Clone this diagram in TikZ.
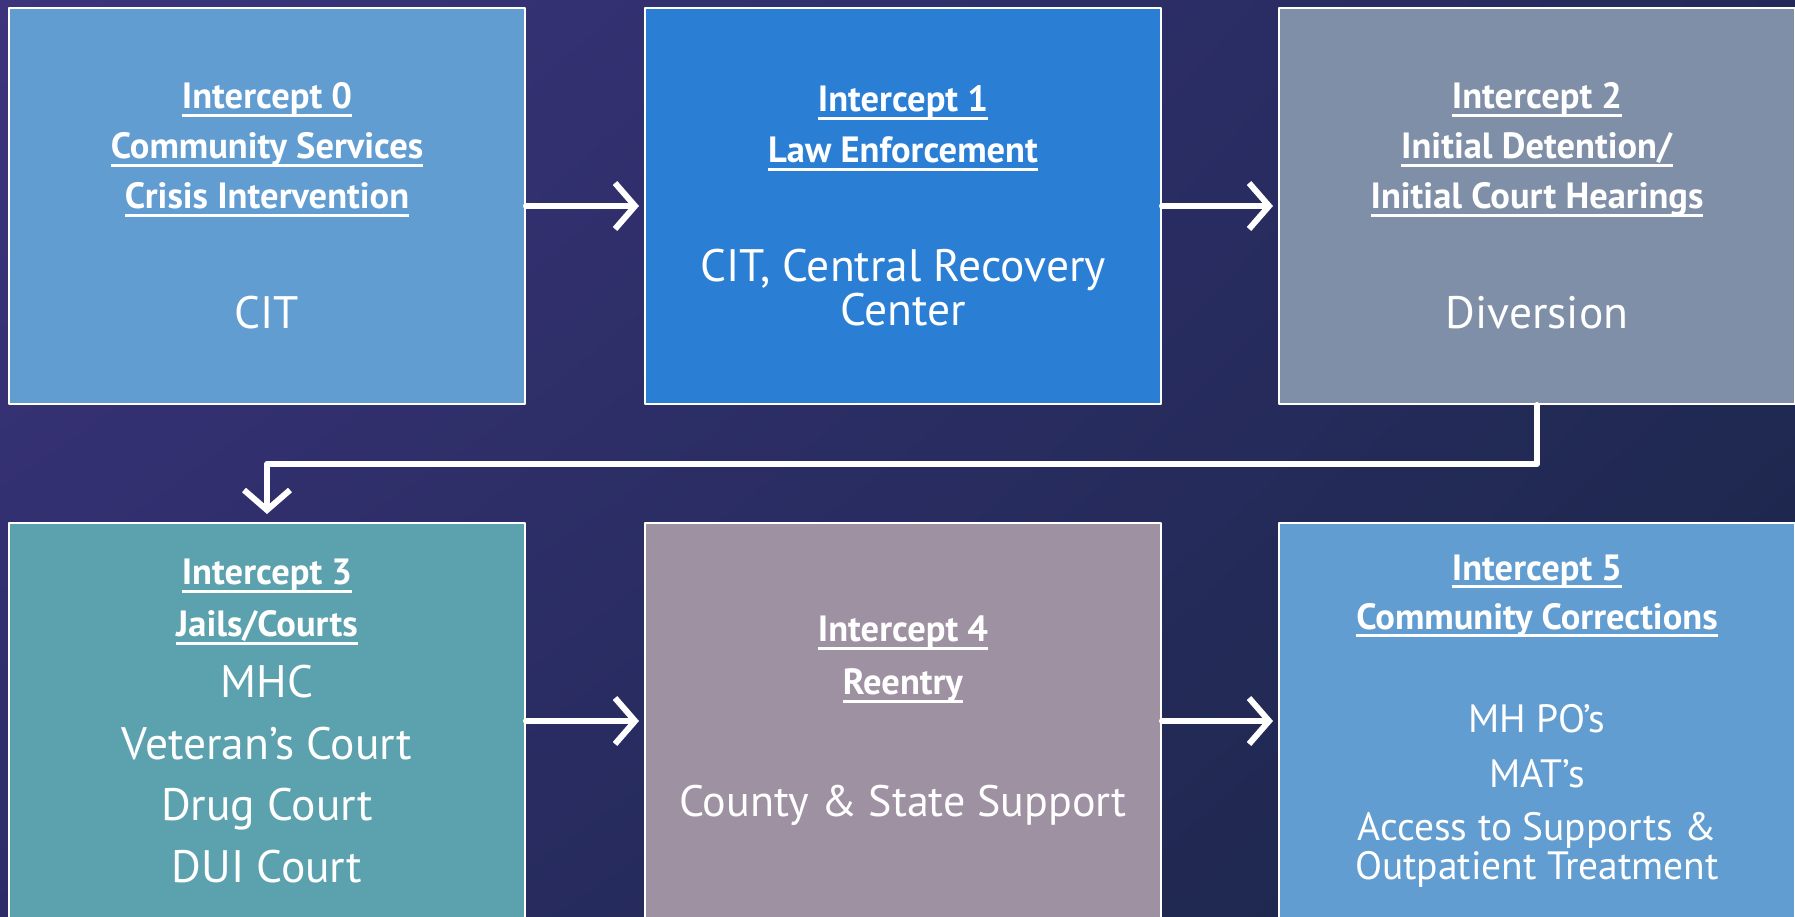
\documentclass[tikz,border=0pt]{standalone}
\usepackage{fontspec}
\setmainfont{PT Sans}
\usepackage{tikz}
\usetikzlibrary{arrows.meta,shadings}
\definecolor{bgpurple}{HTML}{3C347D}
\definecolor{bgmid}{HTML}{2C2D68}
\definecolor{bgnavy}{HTML}{1A2746}
\definecolor{bgdeep}{HTML}{232A5A}
\definecolor{icptzero}{HTML}{629DD1}
\definecolor{icptone}{HTML}{2A7FD5}
\definecolor{icpttwo}{HTML}{7F8FA8}
\definecolor{icptthree}{HTML}{5BA2AE}
\definecolor{icptfour}{HTML}{9E91A2}
\definecolor{icptfive}{HTML}{629DD1}
\newsavebox\ulinebox
\newcommand{\ultitle}[1]{\sbox\ulinebox{\textbf{#1}}\rlap{\vrule width\wd\ulinebox height -5pt depth 8pt}\usebox\ulinebox}
\newcommand{\bodyfont}{\fontsize{45.5}{50}\selectfont}
\newcommand{\smallbody}{\fontsize{39.5}{50}\selectfont}

\begin{document}
\begin{tikzpicture}[line cap=round,line join=round,x=1pt,y=-1pt,
  interbox/.style={draw=white,line width=2pt,minimum width=516pt,minimum height=396pt,inner sep=0pt,align=center,text=white,font=\fontsize{36.5}{50}\selectfont},
  flow/.style={draw=white,line width=6pt,-{Straight Barb[length=20pt,width=46pt]}}]
\useasboundingbox (0,0) rectangle (1795,917);
\shade[upper left=bgpurple,upper right=bgdeep,lower left=bgmid,lower right=bgnavy] (0,0) rectangle (1795,917);
% top row
\node[interbox,fill=icptzero] (i0) at (267,206) {\ultitle{Intercept 0}\\ \ultitle{Community Services}\\ \ultitle{Crisis Intervention}\\[70pt] \bodyfont CIT};
\node[interbox,fill=icptone] (i1) at (903,206) {\ultitle{Intercept 1}\\[1pt] \ultitle{Law Enforcement}\\[69pt] \bodyfont CIT, Central Recovery\\[-6pt] \bodyfont Center};
\node[interbox,fill=icpttwo] (i2) at (1537,206) {\ultitle{Intercept 2}\\ \ultitle{Initial Detention/}\\ \ultitle{Initial Court Hearings}\\[70pt] \bodyfont Diversion};
% bottom row
\node[interbox,fill=icptthree] (i3) at (267,721) {\ultitle{Intercept 3}\\[2pt] \ultitle{Jails/Courts}\\[11pt] \bodyfont MHC\\[12pt] \bodyfont Veteran’s Court\\[11pt] \bodyfont Drug Court\\[12pt] \bodyfont DUI Court};
\node[interbox,fill=icptfour] (i4) at (903,721) {\ultitle{Intercept 4}\\[3pt] \ultitle{Reentry}\\[72pt] \fontsize{44}{50}\selectfont County \& State Support};
\node[interbox,fill=icptfive] (i5) at (1537,721) {\ultitle{Intercept 5}\\[-1pt] \ultitle{Community Corrections}\\[53pt] \smallbody MH PO’s\\[5pt] \smallbody MAT’s\\[3pt] \smallbody Access to Supports \&\\[-11pt] \smallbody Outpatient Treatment};
% arrows
\draw[flow,shorten >=5pt] (i0.east) -- (i1.west);
\draw[flow,shorten >=5pt] (i1.east) -- (i2.west);
\draw[flow,shorten >=8pt] (i2.south) -- ++(0,59) -| (i3.north);
\draw[flow,shorten >=5pt] (i3.east) -- (i4.west);
\draw[flow,shorten >=5pt] (i4.east) -- (i5.west);
\end{tikzpicture}
\end{document}
